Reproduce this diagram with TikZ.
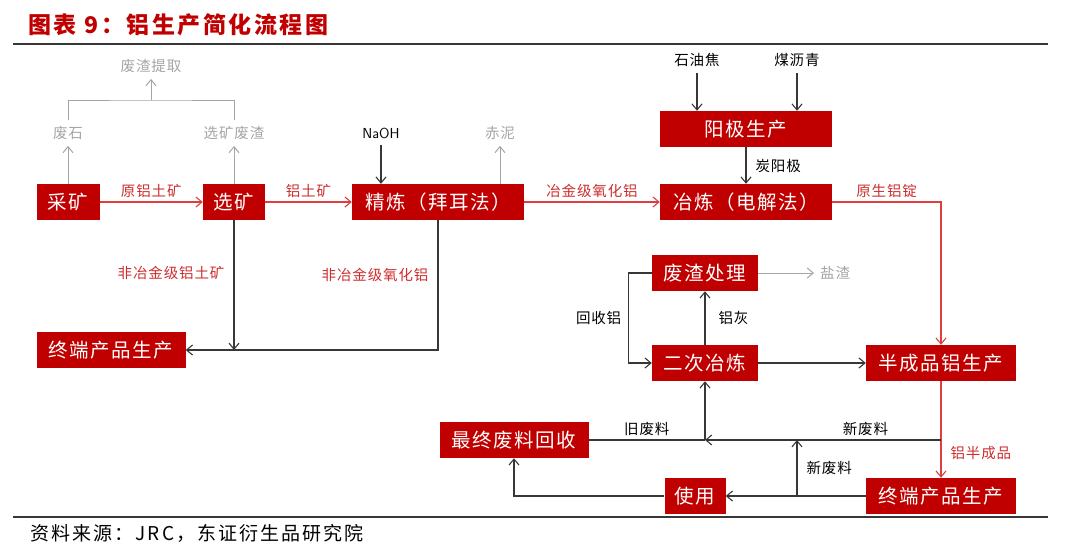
\documentclass[tikz,border=0pt]{standalone}
\usepackage{fontspec}
\newfontfamily\cjk[LetterSpace=6]{Noto Sans CJK SC}
\newfontfamily\cjkbox[LetterSpace=8]{Noto Sans CJK SC}
\newfontfamily\cjkwide[LetterSpace=11]{Noto Sans CJK SC}
\usepackage{tikz}
\usetikzlibrary{positioning, calc, arrows, arrows.meta}
\definecolor{boxred}{RGB}{192,0,0}
\definecolor{linered}{RGB}{222,62,62}
\definecolor{txtred}{RGB}{205,45,45}
\definecolor{lgray}{RGB}{165,165,165}
\definecolor{dline}{RGB}{55,55,55}
\tikzset{rbox/.style={fill=boxred, text=white, inner sep=0pt, minimum height=36pt, font=\cjkbox\fontsize{19.5}{19.5}\selectfont}}
\tikzset{lbl/.style={inner sep=1pt, text=black, font=\cjk\fontsize{14.5}{15}\selectfont}}
\tikzset{rlbl/.style={lbl, text=txtred}}
\tikzset{glbl/.style={lbl, text=lgray}}
\tikzset{arr/.style={draw=dline, ->, >={Straight Barb[length=6pt,width=10pt]}, line width=1.1pt}}
\tikzset{rarr/.style={arr, draw=linered}}
\tikzset{gline/.style={draw=lgray, line width=1pt, shorten <=5pt, shorten >=5pt}}
\tikzset{garr/.style={arr, draw=lgray, line width=1pt, shorten >=5pt}}
\tikzset{rule/.style={draw=dline, line width=1.5pt}}
\begin{document}
\begin{tikzpicture}[x=1pt, y=-1pt]
                \useasboundingbox (0,0) rectangle (1080,558);
                \node[anchor=west, inner sep=0pt, text=boxred, font=\cjkwide\bfseries\fontsize{23}{23}\selectfont] (ttl) at (28,25) {图表 9：铝生产简化流程图};
                \draw[rule] (13,44) -- (1048,44);
                \draw[rule] (13,517) -- (1048,517);
                \node[anchor=west, inner sep=0pt, font=\cjkwide\fontsize{19}{19}\selectfont] (src) at (30,533) {资料来源：JRC，东证衍生品研究院};
                %
                \node[rbox, minimum width=63pt] (mine) at (68,202) {采矿};
                \node[rbox, minimum width=62pt] (dress) at (234,202) {选矿};
                \node[rbox, minimum width=172pt] (refine) at (438,202) {精炼（拜耳法）};
                \node[rbox, minimum width=172pt] (smelt) at (746,202) {冶炼（电解法）};
                \node[rbox, minimum width=172pt] (anode) at (746,129) {阳极生产};
                \node[rbox, minimum width=106pt] (slag) at (705,273) {废渣处理};
                \node[rbox, minimum width=106pt] (remelt) at (705,363) {二次冶炼};
                \node[rbox, minimum width=150pt] (semi) at (941,363) {半成品铝生产};
                \node[rbox, minimum width=149pt] (final) at (514,440) {最终废料回收};
                \node[rbox, minimum width=61pt] (use) at (695,496) {使用};
                \node[rbox, minimum width=150pt] (endR) at (941,496) {终端产品生产};
                \node[rbox, minimum width=149pt] (endL) at (111,350) {终端产品生产};
                %
                \node[glbl] (waste) at (68,133) {废石};
                \node[glbl] (dslag) at (234,133) {选矿废渣};
                \node[glbl] (extract) at (151,66) {废渣提取};
                \node[glbl] (redmud) at (500,133) {赤泥};
                \node[glbl, anchor=west] (salt) at (819,273) {盐渣};
                \node[lbl, font=\fontsize{14.5}{15}\selectfont\sffamily] (naoh) at (381,133) {NaOH};
                \node[lbl] (coke) at (697,60) {石油焦};
                \node[lbl] (pitch) at (797,60) {煤沥青};
                \coordinate (brk) at (151,100);
                \coordinate (jL) at (234,350);
                \coordinate (jS) at (941,440);
                \coordinate (jR) at (705,440);
                \coordinate (jU) at (797,496);
                \coordinate (jN) at (797,440);
                %
                \draw[garr] (mine) to (waste);
                \draw[garr] (dress) to (dslag);
                \draw[gline] (waste.north) |- (brk) -| (dslag.north);
                \draw[garr] (brk) to (extract);
                \draw[garr] (redmud |- refine.north) to (redmud);
                \draw[arr, shorten <=5pt] (naoh) to (naoh |- refine.north);
                \draw[arr, shorten <=5pt] (coke) to (coke |- anode.north);
                \draw[arr, shorten <=5pt] (pitch) to (pitch |- anode.north);
                %
                \draw[rarr] (mine) to
                    node[rlbl, above=3pt]{原铝土矿}
                    (dress);
                \draw[rarr] (dress) to
                    node[rlbl, above=3pt]{铝土矿}
                    (refine);
                \draw[rarr] (refine) to
                    node[rlbl, above=3pt]{冶金级氧化铝}
                    (smelt);
                \draw[arr] (anode) to
                    node[lbl, right=8pt]{炭阳极}
                    (smelt);
                \draw[rarr] (smelt) -|
                    node[rlbl, pos=0.25, above=3pt]{原生铝锭}
                    (semi);
                %
                \draw[arr] (dress) to
                    node[rlbl, pos=0.41, left=8pt]{非冶金级铝土矿}
                    (jL);
                \draw[arr] (refine) |-
                    node[rlbl, pos=0.21, left=8pt]{非冶金级氧化铝}
                    (endL);
                %
                \draw[arr] (remelt) to
                    node[lbl, right=12pt]{铝灰}
                    (slag);
                \draw[arr] (slag.west) -- ++(-23,0) |-
                    node[lbl, pos=0.25, left=6pt]{回收铝}
                    (remelt.west);
                \draw[garr] (slag) to (salt);
                \draw[arr] (remelt) to (semi);
                \draw[rarr] (semi) to
                    node[rlbl, pos=0.74, right=8pt]{铝半成品}
                    (endR);
                %
                \draw[arr] (jS) to
                    node[lbl, pos=0.32, above=3pt]{新废料}
                    (jR);
                \draw[arr] (jR) to (remelt);
                \draw[arr, -] (final) to
                    node[lbl, above=3pt]{旧废料}
                    (jR);
                \draw[arr] (endR) to (use);
                \draw[arr] (jU) to
                    node[lbl, right=8pt]{新废料}
                    (jN);
                \draw[arr] (use) -| (final);
            \end{tikzpicture}
\end{document}
